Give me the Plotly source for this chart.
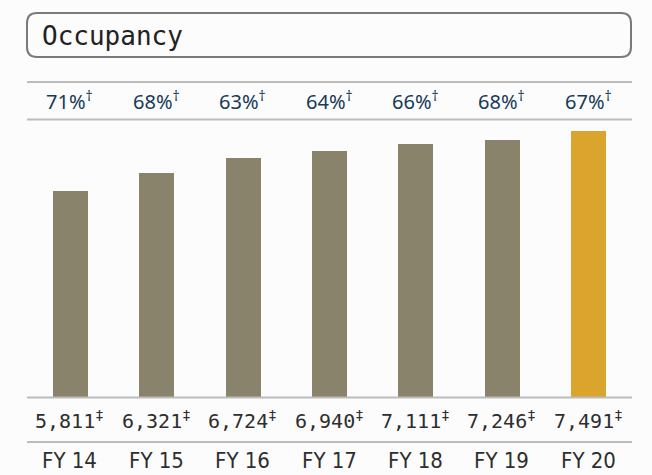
import plotly.graph_objects as go

categories = ["FY 14", "FY 15", "FY 16", "FY 17", "FY 18", "FY 19", "FY 20"]
rooms = [5811, 6321, 6724, 6940, 7111, 7246, 7491]
occupancy = [71, 68, 63, 64, 66, 68, 67]
bar_colors = ["#8a836b"] * 6 + ["#dba42c"]

W, H = 652, 475
def fx(px): return px / W
def fy(py): return 1 - py / H

x_left, x_right = 26.5, 631.5
y_top_plot, y_base = 120, 397

fig = go.Figure()
fig.add_trace(go.Bar(
    x=categories, y=rooms, marker=dict(color=bar_colors, line=dict(width=0)),
    width=0.405, hoverinfo="skip",
))

ymax = rooms[-1] / (y_base - 131) * (y_base - y_top_plot)

fig.update_layout(
    width=W, height=H,
    margin=dict(l=0, r=0, t=0, b=0),
    paper_bgcolor="#fcfcfc", plot_bgcolor="rgba(0,0,0,0)",
    showlegend=False,
    bargap=0,
    xaxis=dict(domain=[fx(x_left), fx(x_right)], showticklabels=False, showgrid=False,
               zeroline=False, showline=False, ticks="", range=[-0.5, 6.5]),
    yaxis=dict(domain=[fy(y_base), fy(y_top_plot)], range=[0, ymax], showticklabels=False,
               showgrid=False, zeroline=False, showline=False, ticks=""),
)

shapes = []
for py in [82, 119.5, 397.5, 442]:
    shapes.append(dict(type="line", xref="paper", yref="paper",
                       x0=fx(27), x1=fx(632), y0=fy(py), y1=fy(py),
                       line=dict(color="#bcbcbc", width=2)))

# rounded title box
bx0, bx1, by0, by1, r = 27, 631, 13, 57, 10
path = (f"M {fx(bx0+r)} {fy(by0)} L {fx(bx1-r)} {fy(by0)} "
        f"Q {fx(bx1)} {fy(by0)} {fx(bx1)} {fy(by0+r)} "
        f"L {fx(bx1)} {fy(by1-r)} Q {fx(bx1)} {fy(by1)} {fx(bx1-r)} {fy(by1)} "
        f"L {fx(bx0+r)} {fy(by1)} Q {fx(bx0)} {fy(by1)} {fx(bx0)} {fy(by1-r)} "
        f"L {fx(bx0)} {fy(by0+r)} Q {fx(bx0)} {fy(by0)} {fx(bx0+r)} {fy(by0)} Z")
shapes.append(dict(type="path", xref="paper", yref="paper", path=path,
                   line=dict(color="#7a7a7a", width=2), fillcolor="rgba(0,0,0,0)"))
fig.update_layout(shapes=shapes)

ann = [dict(text="Occupancy", xref="paper", yref="paper", x=fx(40), y=fy(36),
            xanchor="left", yanchor="middle", showarrow=False,
            font=dict(family="DejaVu Sans Mono", size=26, color="#222222"))]

for i, c in enumerate(categories):
    ann.append(dict(text=f"{occupancy[i]}%<sup>†</sup>", x=c, xref="x", yref="paper",
                    y=fy(100), yanchor="middle", xanchor="center", showarrow=False,
                    font=dict(family="Noto Sans", size=20, color="#173a57")))
    ann.append(dict(text=f"{rooms[i]:,}<sup>‡</sup>", x=c, xref="x", yref="paper",
                    y=fy(420), yanchor="middle", xanchor="center", showarrow=False,
                    font=dict(family="DejaVu Sans Mono", size=20, color="#2e2e2e")))
    ann.append(dict(text=c, x=c, xref="x", yref="paper",
                    y=fy(460), yanchor="middle", xanchor="center", showarrow=False,
                    font=dict(family="DejaVu Sans Condensed", size=22, color="#2e2e2e")))
fig.update_layout(annotations=ann)

fig.write_html("out.html")
